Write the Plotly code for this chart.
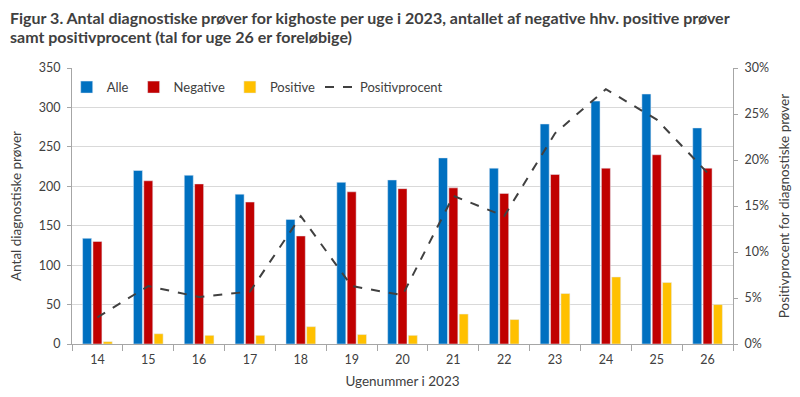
import plotly.graph_objects as go

weeks = ["14", "15", "16", "17", "18", "19", "20", "21", "22", "23", "24", "25", "26"]
alle = [134, 220, 214, 190, 158, 205, 208, 236, 223, 279, 308, 317, 274]
negative = [130, 207, 203, 180, 137, 193, 197, 198, 191, 215, 223, 240, 223]
positive = [3, 13, 11, 11, 22, 12, 11, 38, 31, 64, 85, 78, 50]
positivprocent = [0.029, 0.063, 0.051, 0.057, 0.139, 0.063, 0.053, 0.161, 0.139, 0.229, 0.277, 0.244, 0.186]

title_line1 = "Figur 3. Antal diagnostiske prøver for kighoste per uge i 2023, antallet af negative hhv. positive prøver"
title_line2 = "samt positivprocent (tal for uge 26 er foreløbige)"

FONT = "Lato"
TXT = "#404040"
GRID = "#D9D9D9"
AX = "#A6A6A6"

# page body has an 8px margin, so the figure is 8px smaller and shifted
W, H = 792, 389
PW, PH = 661, 276

fig = go.Figure()
fig.add_trace(go.Bar(x=weeks, y=alle, name="Alle", marker_color="#0070C0"))
fig.add_trace(go.Bar(x=weeks, y=negative, name="Negative", marker_color="#C00000"))
fig.add_trace(go.Bar(x=weeks, y=positive, name="Positive", marker_color="#FFC000"))
fig.add_trace(go.Scatter(x=weeks, y=positivprocent, name="Positivprocent", mode="lines",
                         line=dict(color="#404040", width=2, dash="dash"), yaxis="y2"))

fig.update_layout(
    width=W, height=H,
    margin=dict(l=64, r=67, t=60, b=53, autoexpand=False),
    paper_bgcolor="white", plot_bgcolor="white",
    font=dict(family=FONT, color=TXT, size=12.5),
    barmode="group", bargap=0.39, bargroupgap=0.13,
    legend=dict(orientation="h", x=-0.008, y=0.985, xanchor="left", yanchor="top",
                bgcolor="rgba(0,0,0,0)", font=dict(size=13, color=TXT),
                tracegroupgap=0),
    xaxis=dict(title=dict(text="Ugenummer i 2023", font=dict(size=13.5), standoff=10),
               showline=True, linecolor=AX, linewidth=1,
               ticks="outside", tickson="boundaries", tickcolor=AX, ticklen=6,
               ticklabelstandoff=4,
               showgrid=False, tickfont=dict(size=12.5)),
    yaxis=dict(title=dict(text="Antal diagnostiske prøver", font=dict(size=13.5), standoff=16),
               range=[0, 350], dtick=50, showline=True, linecolor=AX, linewidth=1,
               ticks="outside", tickcolor=AX, ticklen=4, ticklabelstandoff=4,
               showgrid=True, gridcolor=GRID, zeroline=False, tickfont=dict(size=12.5)),
    yaxis2=dict(title=dict(text="Positivprocent for diagnostiske prøver", font=dict(size=13.5), standoff=11),
                overlaying="y", side="right", range=[0, 0.30], dtick=0.05, tickformat=".0%",
                showline=True, linecolor=AX, linewidth=1, ticks="outside", tickcolor=AX, ticklen=4,
                ticklabelstandoff=4,
                showgrid=False, zeroline=False, tickfont=dict(size=12.5)),
    annotations=[
        dict(text="<b>" + title_line1 + "</b>", xref="paper", yref="paper", x=-64 / PW, y=1 + 51 / PH,
             xanchor="left", yanchor="middle", showarrow=False, font=dict(family=FONT, size=16, color=TXT)),
        dict(text="<b>" + title_line2 + "</b>", xref="paper", yref="paper", x=-64 / PW, y=1 + 31 / PH,
             xanchor="left", yanchor="middle", showarrow=False, font=dict(family=FONT, size=16, color=TXT)),
    ],
)

fig.write_html("out.html")
